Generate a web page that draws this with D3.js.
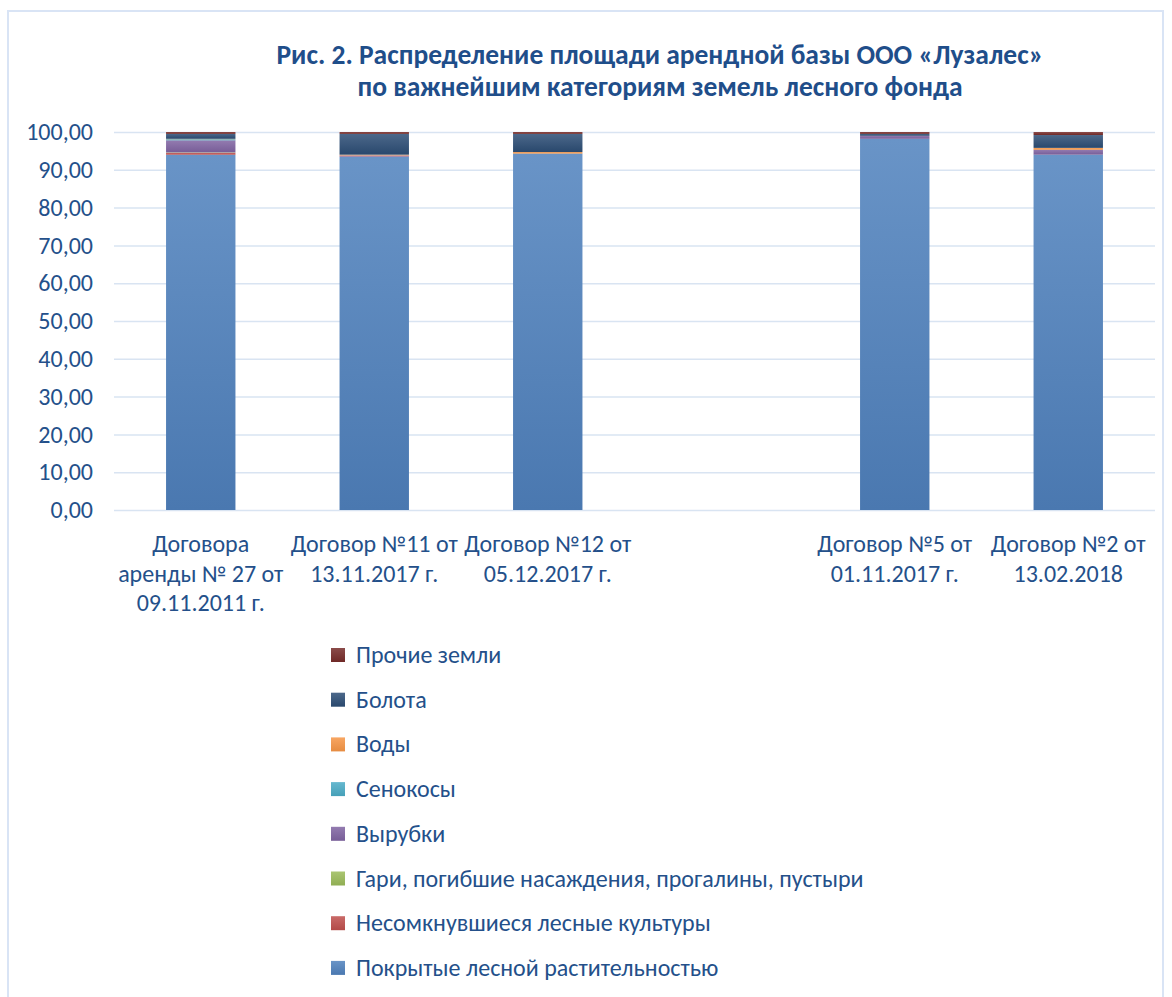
<!DOCTYPE html>
<html>
  <head>
    <meta charset="utf-8">
    <title>Рис. 2</title>
    <script src="https://cdn.jsdelivr.net/npm/d3@7"></script>
    <style>
      body
      {
        margin: 0px;
        padding: 0px;
        background: white;
        font-family: Calibri, Carlito, Lato, "Liberation Sans", Arial, sans-serif;
      }
      .grid line
      {
        stroke: #d9e4f2;
        stroke-width: 1.5px;
      }
      .tick text
      {
        fill: #24508a;
      }
    </style>
  </head>
  <body>
    <svg id="chart"></svg>
    <script>

      //--- Data
      var categories = ["c1", "c2", "c3", "c4", "c5", "c6"];
      var categoryLabels = [
        ["Договора", "аренды № 27 от", "09.11.2011 г."],
        ["Договор №11 от", "13.11.2017 г."],
        ["Договор №12 от", "05.12.2017 г."],
        [],
        ["Договор №5 от", "01.11.2017 г."],
        ["Договор №2 от", "13.02.2018"]
      ];
      var seriesNames = ["Покрытые лесной растительностью", "Несомкнувшиеся лесные культуры",
        "Гари, погибшие насаждения, прогалины, пустыри", "Вырубки", "Сенокосы", "Воды", "Болота", "Прочие земли"];
      var seriesColors = ["#4f81bd", "#c0504d", "#9bbb59", "#8064a2", "#4bacc6", "#f79646", "#2c4d75", "#772c2a"];

      var pokrytye     = [94.0, 93.4, 94.3, 0, 98.2, 94.0];
      var nesomknuv    = [0.5, 0.1, 0.0, 0, 0.0, 0.0];
      var gari         = [0.1, 0.0, 0.0, 0, 0.0, 0.0];
      var vyrubki      = [3.2, 0.3, 0.0, 0, 0.8, 1.3];
      var senokosy     = [0.3, 0.0, 0.0, 0, 0.0, 0.0];
      var vody         = [0.1, 0.2, 0.4, 0, 0.0, 0.5];
      var bolota       = [1.3, 5.5, 4.8, 0, 0.5, 3.4];
      var prochie      = [0.5, 0.5, 0.5, 0, 0.5, 0.8];
      var seriesValues = [pokrytye, nesomknuv, gari, vyrubki, senokosy, vody, bolota, prochie];

      var yTicks = [0, 10, 20, 30, 40, 50, 60, 70, 80, 90, 100];

      //--- Size
      var width = 1172, height = 997;
      var margin = { left: 114, right: 17, top: 132, bottom: 487 };

      var svg = d3.select("#chart")
        .attr("width", width)
        .attr("height", height);

      //--- Frame
      svg.append("rect")
        .attr("x", 8).attr("y", 11)
        .attr("width", 1155).attr("height", 1000)
        .attr("fill", "none")
        .attr("stroke", "#d9e4f5")
        .attr("stroke-width", 2);

      //--- Title
      var title = svg.append("text")
        .attr("text-anchor", "middle")
        .attr("font-weight", "bold")
        .attr("font-size", "27.5px")
        .attr("fill", "#1f4e8a");
      title.append("tspan").attr("x", 660).attr("y", 64).text("Рис. 2. Распределение площади арендной базы ООО «Лузалес»");
      title.append("tspan").attr("x", 660).attr("y", 96).text("по важнейшим категориям земель лесного фонда");

      //--- Scales
      var x = d3.scaleBand()
        .domain(categories)
        .range([margin.left, width - margin.right])
        .paddingInner(0.6)
        .paddingOuter(0.3);

      var y = d3.scaleLinear()
        .domain([0, 100])
        .range([height - margin.bottom, margin.top]);

      //--- Gradients (lighter on top, darker at bottom)
      var defs = svg.append("defs");
      seriesColors.forEach(function (c, i)
      {
        var g = defs.append("linearGradient")
          .attr("id", "grad" + i)
          .attr("x1", 0).attr("y1", 0).attr("x2", 0).attr("y2", 1);
        g.append("stop").attr("offset", "0%").attr("stop-color", d3.interpolateRgb(c, "#ffffff")(0.15));
        g.append("stop").attr("offset", "100%").attr("stop-color", d3.color(c).darker(0.2));
      });

      //--- Grid
      svg.append("g")
        .attr("class", "grid")
        .attr("transform", "translate(" + margin.left + ",0)")
        .call(d3.axisLeft(y).tickValues(yTicks).tickSize(-(width - margin.left - margin.right)).tickFormat(""))
        .call(g => g.select(".domain").remove());

      //--- Y axis labels
      svg.append("g")
        .attr("transform", "translate(" + 93 + ",0)")
        .call(d3.axisLeft(y).tickValues(yTicks).tickSize(0).tickPadding(0)
          .tickFormat(d => d3.format(".2f")(d).replace(".", ",")))
        .call(g => g.select(".domain").remove())
        .selectAll("text")
          .attr("font-size", "24px")
          .attr("font-family", "Calibri, Carlito, Lato, 'Liberation Sans', Arial, sans-serif");

      //--- Stacked bars
      var table = categories.map(function (c, i)
      {
        var row = { cat: c };
        seriesNames.forEach((s, j) => row[s] = seriesValues[j][i]);
        return row;
      });
      var stack = d3.stack().keys(seriesNames)(table);

      svg.append("g")
        .selectAll("g")
        .data(stack)
        .enter()
          .append("g")
            .attr("fill", (d, i) => "url(#grad" + i + ")")
          .selectAll("rect")
          .data(d => d)
          .enter()
            .append("rect")
              .attr("x", d => x(d.data.cat))
              .attr("width", x.bandwidth())
              .attr("y", d => y(d[1]))
              .attr("height", d => y(d[0]) - y(d[1]));

      //--- Category labels
      var catG = svg.append("g")
        .attr("font-size", "24px")
        .attr("fill", "#24508a")
        .attr("text-anchor", "middle");
      categories.forEach(function (c, i)
      {
        var t = catG.append("text");
        categoryLabels[i].forEach(function (line, k)
        {
          t.append("tspan")
            .attr("x", x(c) + x.bandwidth() / 2)
            .attr("y", 552 + k * 29.5)
            .text(line);
        });
      });

      //--- Legend (reversed order)
      var legend = svg.append("g")
        .attr("font-size", "24px")
        .attr("fill", "#24508a");
      var legendOrder = seriesNames.map((s, i) => i).reverse();
      legendOrder.forEach(function (si, k)
      {
        var ly = 655 + k * 44.7;
        legend.append("rect")
          .attr("x", 331).attr("y", ly - 7)
          .attr("width", 14).attr("height", 14)
          .attr("fill", "url(#grad" + si + ")");
        legend.append("text")
          .attr("x", 356).attr("y", ly + 8)
          .text(seriesNames[si]);
      });

    </script>
  </body>
</html>
